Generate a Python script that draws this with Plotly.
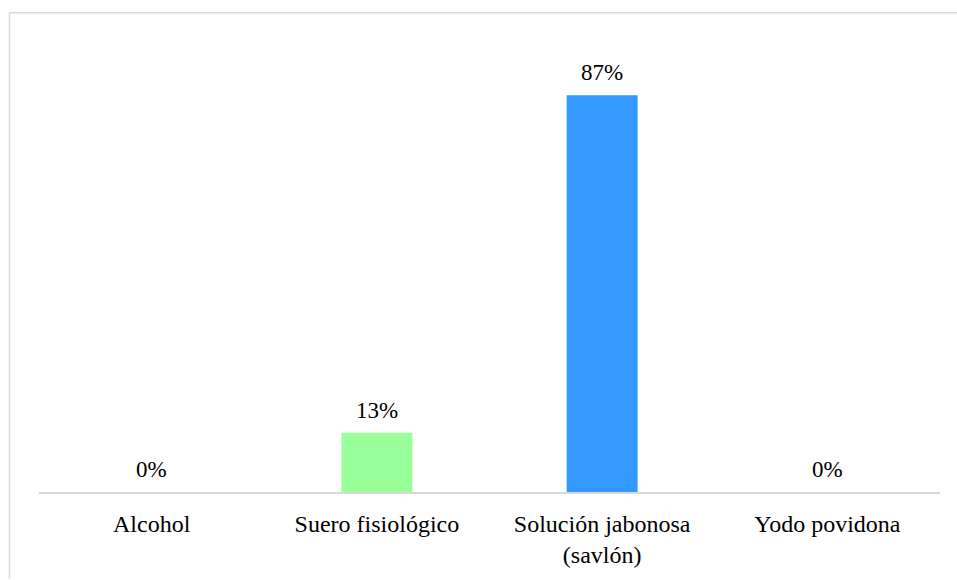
import plotly.graph_objects as go

categories = ["Alcohol", "Suero fisiológico", "Solución jabonosa<br>(savlón)", "Yodo povidona"]
values = [0, 13, 87, 0]
labels = ["0%", "13%", "87%", "0%"]
colors = ["#99FF99", "#99FF99", "#3399FF", "#3399FF"]

W, H = 957, 580
L, R, T, B = 39, 17, 36, 83
pw, ph = W - L - R, H - T - B

def px_x(x):
    return (x - L) / pw

def px_y(y):
    return (H - B - y) / ph

fig = go.Figure()
fig.add_trace(go.Bar(
    x=categories, y=values, marker=dict(color=colors, line=dict(width=0)),
    width=0.315, hoverinfo="skip",
))

for c, v, t in zip(categories, values, labels):
    fig.add_annotation(x=c, y=v, text=t, showarrow=False, yanchor="bottom",
                       yshift=8, font=dict(family="Liberation Serif", size=23, color="#000000"))

border = "#D9D9D9"
fig.add_shape(type="line", xref="paper", yref="paper",
              x0=px_x(9.5), x1=px_x(960), y0=px_y(12.5), y1=px_y(12.5),
              line=dict(color=border, width=1.5))
fig.add_shape(type="line", xref="paper", yref="paper",
              x0=px_x(9.5), x1=px_x(9.5), y0=px_y(12.5), y1=px_y(585),
              line=dict(color=border, width=1.5))

fig.update_layout(
    width=W, height=H,
    margin=dict(l=L, r=R, t=T, b=B, pad=0),
    paper_bgcolor="white", plot_bgcolor="white",
    showlegend=False,
    font=dict(family="Liberation Serif", size=24, color="#000000"),
    xaxis=dict(showline=True, linecolor=border, linewidth=1.5, ticks="",
               showgrid=False, zeroline=False, tickfont=dict(size=24),
               ticklabelstandoff=9),
    yaxis=dict(range=[0, 100], visible=False, showgrid=False, zeroline=False),
)

fig.write_html("out.html")
